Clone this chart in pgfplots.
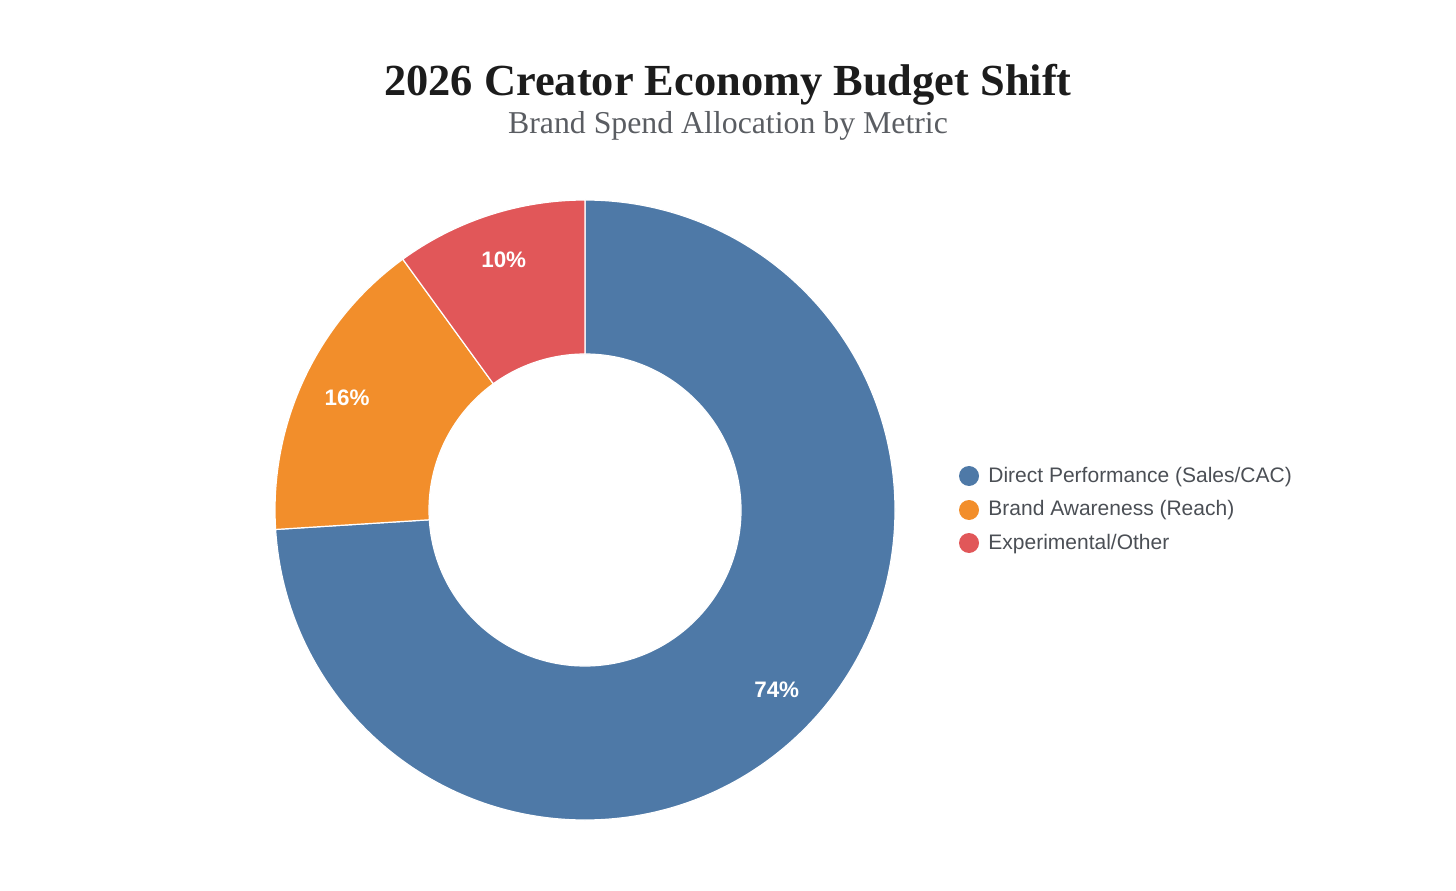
\documentclass[border=0pt]{standalone}
\usepackage{pgfplots}
\pgfplotsset{compat=1.18}
\usepackage{pgfplotstable}
\usepackage{fontspec}
\setmainfont{Liberation Serif}
\newfontfamily\labfont{Liberation Sans}

\definecolor{cblue}{HTML}{4E79A7}
\definecolor{corange}{HTML}{F28E2B}
\definecolor{cred}{HTML}{E15759}
\definecolor{titlecol}{HTML}{1C1C1C}
\definecolor{subcol}{HTML}{5A5D62}
\definecolor{legcol}{HTML}{4B4F55}

% share of brand spend, per cent
\pgfplotstableread[col sep=comma]{
name,value
Direct Performance (Sales/CAC),74
Brand Awareness (Reach),16
Experimental/Other,10
}\budget

\pgfplotstablegetelem{0}{value}\of\budget \edef\va{\pgfplotsretval}
\pgfplotstablegetelem{1}{value}\of\budget \edef\vb{\pgfplotsretval}
\pgfplotstablegetelem{2}{value}\of\budget \edef\vc{\pgfplotsretval}
\pgfplotstablegetelem{0}{name}\of\budget \edef\na{\pgfplotsretval}
\pgfplotstablegetelem{1}{name}\of\budget \edef\nb{\pgfplotsretval}
\pgfplotstablegetelem{2}{name}\of\budget \edef\nc{\pgfplotsretval}
% angles, clockwise from the top
\pgfmathsetmacro\aA{90}
\pgfmathsetmacro\aB{\aA-3.6*\va}
\pgfmathsetmacro\aC{\aB-3.6*\vb}
\pgfmathsetmacro\aD{\aC-3.6*\vc}
\pgfmathsetmacro\mA{(\aA+\aB)/2}
\pgfmathsetmacro\mB{(\aB+\aC)/2}
\pgfmathsetmacro\mC{(\aC+\aD)/2}

% donut: centre (585,380), radii 310 and 156 (axis units)
\newcommand\donutwedge[3]{%
  \fill[#1, draw=white, line width=0.6pt]
    (axis cs:{585+310*cos(#2)},{380+310*sin(#2)})
    arc[start angle=#2, end angle=#3, radius=155pt]
    -- (axis cs:{585+156*cos(#3)},{380+156*sin(#3)})
    arc[start angle=#3, end angle=#2, radius=78pt] -- cycle;}

\begin{document}
\begin{tikzpicture}
\begin{axis}[x=0.5pt, y=0.5pt, xmin=0, xmax=1456, ymin=0, ymax=890,
    hide axis, clip=false]
  \path (axis cs:0,0) rectangle (axis cs:1456,890);
  \donutwedge{cblue}{\aA}{\aB}
  \donutwedge{corange}{\aB}{\aC}
  \donutwedge{cred}{\aC}{\aD}

  \node[white, font=\labfont\bfseries\fontsize{11.2}{13}\selectfont]
    at (axis cs:{585+263*cos(\mA)},{380+263*sin(\mA)}) {\va\%};
  \node[white, font=\labfont\bfseries\fontsize{11.2}{13}\selectfont]
    at (axis cs:{585+263*cos(\mB)},{380+263*sin(\mB)}) {\vb\%};
  \node[white, font=\labfont\bfseries\fontsize{11.2}{13}\selectfont]
    at (axis cs:{585+263*cos(\mC)},{380+263*sin(\mC)}) {\vc\%};

  % legend
  \fill[cblue] (axis cs:969,414) circle[radius=5pt];
  \fill[corange] (axis cs:969,380) circle[radius=5pt];
  \fill[cred] (axis cs:969,347) circle[radius=5pt];
  \node[anchor=base west, inner sep=0pt, legcol, font=\labfont\fontsize{10.5}{12}\selectfont]
    at (axis cs:988,408) {\na};
  \node[anchor=base west, inner sep=0pt, legcol, font=\labfont\fontsize{10.5}{12}\selectfont]
    at (axis cs:988,374) {\nb};
  \node[anchor=base west, inner sep=0pt, legcol, font=\labfont\fontsize{10.5}{12}\selectfont]
    at (axis cs:988,341) {\nc};

  % titles
  \node[anchor=base, inner sep=0pt, titlecol, font=\bfseries\fontsize{22.2}{26}\selectfont]
    at (axis cs:728,794) {2026 Creator Economy Budget Shift};
  \node[anchor=base, inner sep=0pt, subcol, font=\fontsize{15.9}{19}\selectfont]
    at (axis cs:728,756) {Brand Spend Allocation by Metric};
\end{axis}
\end{tikzpicture}
\end{document}
